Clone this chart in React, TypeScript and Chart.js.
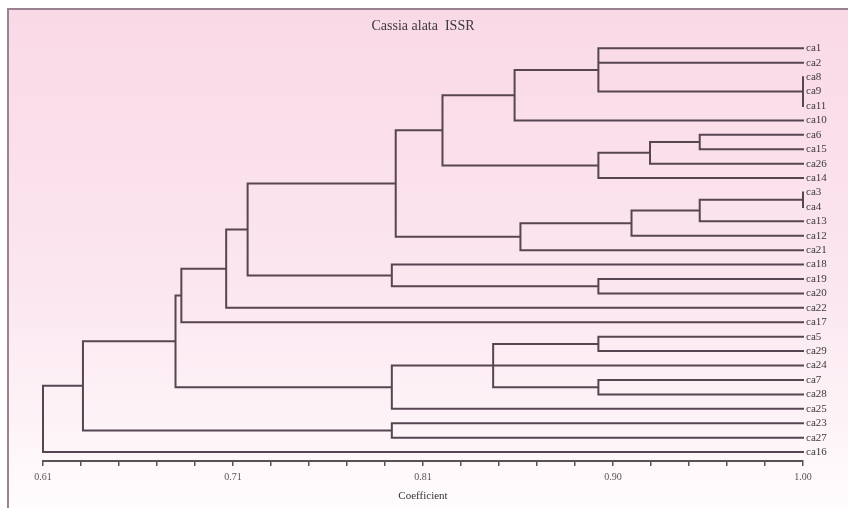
import React, { useEffect, useRef } from 'react';
import { Chart, registerables } from 'chart.js';

Chart.register(...registerables);

const chartTitle = 'Cassia alata  ISSR';
const axisTitle = 'Coefficient';

// leaf order, top to bottom
const leaves = [
  'ca1', 'ca2', 'ca8', 'ca9', 'ca11', 'ca10', 'ca6', 'ca15', 'ca26', 'ca14',
  'ca3', 'ca4', 'ca13', 'ca12', 'ca21', 'ca18', 'ca19', 'ca20', 'ca22', 'ca17',
  'ca5', 'ca29', 'ca24', 'ca7', 'ca28', 'ca25', 'ca23', 'ca27', 'ca16',
];

// merges: children (leaf names or '#k' = earlier merge k)
const mergeChildren: string[][] = [
  ['ca8', 'ca9', 'ca11'],   // 0
  ['ca1', 'ca2', '#0'],     // 1
  ['#1', 'ca10'],           // 2
  ['ca6', 'ca15'],          // 3
  ['#3', 'ca26'],           // 4
  ['#4', 'ca14'],           // 5
  ['#2', '#5'],             // 6
  ['ca3', 'ca4'],           // 7
  ['#7', 'ca13'],           // 8
  ['#8', 'ca12'],           // 9
  ['#9', 'ca21'],           // 10
  ['#6', '#10'],            // 11
  ['ca19', 'ca20'],         // 12
  ['ca18', '#12'],          // 13
  ['#11', '#13'],           // 14
  ['#14', 'ca22'],          // 15
  ['#15', 'ca17'],          // 16
  ['ca5', 'ca29'],          // 17
  ['ca7', 'ca28'],          // 18
  ['#17', 'ca24', '#18'],   // 19
  ['#19', 'ca25'],          // 20
  ['#16', '#20'],           // 21
  ['ca23', 'ca27'],         // 22
  ['#21', '#22'],           // 23
  ['#23', 'ca16'],          // 24
];

// similarity coefficient at which each merge happens
const mergeHeights = [
  1.0, 0.895, 0.852, 0.947, 0.9215, 0.895, 0.815, 1.0, 0.947, 0.912,
  0.855, 0.791, 0.895, 0.789, 0.715, 0.704, 0.681, 0.895, 0.895, 0.841,
  0.789, 0.678, 0.789, 0.6305, 0.61,
];

const xMin = 0.61;
const xMax = 1.0;
const xMajorLabels = ['0.61', '0.71', '0.81', '0.90', '1.00'];
const minorSteps = 5;

function buildTree() {
  const pos: Record<string, { x: number; y: number }> = {};
  leaves.forEach((n, i) => {
    pos[n] = { x: xMax, y: i };
  });
  const pts: { x: number; y: number | null }[] = [];
  mergeChildren.forEach((ch, k) => {
    const h = mergeHeights[k];
    const cs = ch.map((c) => pos[c]);
    const ys = cs.map((c) => c.y);
    const lo = Math.min(...ys);
    const hi = Math.max(...ys);
    cs.forEach((c) => {
      pts.push({ x: c.x, y: c.y }, { x: h, y: c.y }, { x: h, y: null });
    });
    pts.push({ x: h, y: lo }, { x: h, y: hi }, { x: h, y: null });
    pos['#' + k] = { x: h, y: (lo + hi) / 2 };
  });
  return pts;
}

const bgPlugin = {
  id: 'bgPlugin',
  beforeDraw(chart: any) {
    const { ctx, width, height } = chart;
    ctx.save();
    const g = ctx.createLinearGradient(0, 9, 0, height);
    g.addColorStop(0, '#fad9e7');
    g.addColorStop(0.55, '#fbe6ef');
    g.addColorStop(1, '#fffcfd');
    ctx.fillStyle = g;
    ctx.fillRect(9, 9, width - 9, height - 9);
    ctx.strokeStyle = '#9a8292';
    ctx.lineWidth = 2;
    ctx.beginPath();
    ctx.moveTo(8, height);
    ctx.lineTo(8, 9);
    ctx.lineTo(width, 9);
    ctx.stroke();
    ctx.restore();
  },
};

export default function App() {
  const ref = useRef<HTMLCanvasElement | null>(null);
  useEffect(() => {
    document.body.style.margin = '0';
    if (!ref.current) return;
    const serif = 'Liberation Serif';
    const chart = new Chart(ref.current, {
      type: 'line',
      data: {
        datasets: [
          {
            data: buildTree() as any,
            borderColor: '#574552',
            borderWidth: 2,
            pointRadius: 0,
            tension: 0,
            spanGaps: false,
            borderCapStyle: 'square',
            clip: false as any,
          },
        ],
      },
      options: {
        animation: false,
        responsive: false,
        devicePixelRatio: 1,
        layout: { padding: { left: 43, right: 0, top: 0, bottom: 0 } },
        plugins: {
          legend: { display: false },
          tooltip: { enabled: false },
          title: {
            display: true,
            text: chartTitle,
            fullSize: false,
            color: '#3a3a3a',
            font: { family: serif, size: 14, weight: 'normal' },
            padding: { top: 18, bottom: 0 },
          },
        },
        scales: {
          x: {
            type: 'linear',
            min: xMin,
            max: xMax,
            afterBuildTicks: (s: any) => {
              const n = (xMajorLabels.length - 1) * minorSteps;
              s.ticks = Array.from({ length: n + 1 }, (_, k) => ({ value: xMin + (k * (xMax - xMin)) / n }));
            },
            afterFit: (s: any) => {
              s.height = 47;
            },
            ticks: {
              autoSkip: false,
              maxRotation: 0,
              padding: 5,
              color: '#555',
              font: { family: serif, size: 10 },
              callback: (_v: any, i: number) => (i % minorSteps === 0 ? xMajorLabels[i / minorSteps] : ''),
            },
            grid: { drawOnChartArea: false, drawTicks: true, tickLength: 5, color: '#555', lineWidth: 1.5 },
            border: { display: true, color: '#555', width: 2 },
            title: {
              display: true,
              text: axisTitle,
              color: '#333',
              font: { family: serif, size: 11 },
              padding: { top: 0, bottom: 5 },
            },
          },
          y: {
            type: 'linear',
            position: 'right',
            reverse: true,
            min: -0.936,
            max: 28.62,
            afterBuildTicks: (s: any) => {
              s.ticks = leaves.map((_, i) => ({ value: i }));
            },
            afterFit: (s: any) => {
              s.width = 45;
            },
            ticks: {
              autoSkip: false,
              padding: 3,
              color: '#3a3a3a',
              font: { family: serif, size: 11 },
              callback: (v: any) => leaves[v as number],
            },
            grid: { display: false, drawTicks: false },
            border: { display: false },
          },
        },
      },
      plugins: [bgPlugin],
    });
    return () => chart.destroy();
  }, []);
  return (
    <div style={{ width: 848, height: 508 }}>
      <canvas ref={ref} width={848} height={508} />
    </div>
  );
}
